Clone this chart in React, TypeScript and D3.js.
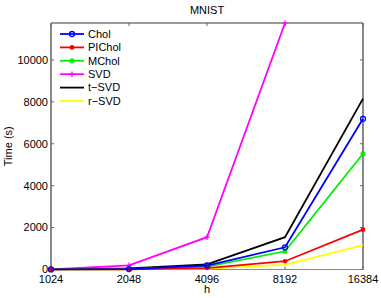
import React, { useEffect, useRef } from "react";
import * as d3 from "d3";

// chart values
const sizes = [1024, 2048, 4096, 8192, 16384];
const yTicks = [0, 2000, 4000, 6000, 8000, 10000];
const yMax = 11760;

const chol = [5, 20, 190, 1060, 7190];
const piChol = [3, 10, 70, 395, 1900];
const mChol = [4, 15, 140, 870, 5520];
const svd = [10, 200, 1540, 11760];
const tSvd = [6, 50, 240, 1540, 8150];
const rSvd = [2, 5, 40, 220, 1160];

const seriesNames = ["Chol", "PIChol", "MChol", "SVD", "t\u2212SVD", "r\u2212SVD"];
const seriesColors = ["#0000ff", "#ff0000", "#00ee00", "#ff00ff", "#000000", "#ffff00"];
const seriesMarkers = ["circle", "dot", "star", "plus", "none", "none"];
const seriesValues = [chol, piChol, mChol, svd, tSvd, rSvd];

const W = 381, H = 298;
const margin = { top: 23, right: 18, bottom: 28.5, left: 51 };

export default function App() {
    const ref = useRef<SVGSVGElement>(null);

    useEffect(() => {
        const svg = d3.select(ref.current);
        svg.selectAll("*").remove();
        const w = W - margin.left - margin.right;
        const h = H - margin.top - margin.bottom;

        const x = d3.scaleLog().base(2).domain([1024, 16384]).range([0, w]);
        const y = d3.scaleLinear().domain([0, yMax]).range([h, 0]);

        const g = svg.append("g").attr("transform", `translate(${margin.left},${margin.top})`);
        const font = "Liberation Sans, Arial, sans-serif";

        // frame
        g.append("line").attr("x1", 0).attr("x2", w).attr("y1", 0).attr("y2", 0)
            .attr("stroke", "#000").attr("stroke-width", 0.8);
        g.append("line").attr("x1", 0).attr("x2", w).attr("y1", h).attr("y2", h)
            .attr("stroke", "#888").attr("stroke-width", 1);
        g.append("line").attr("x1", 0).attr("x2", 0).attr("y1", 0).attr("y2", h)
            .attr("stroke", "#888").attr("stroke-width", 2);
        g.append("line").attr("x1", w).attr("x2", w).attr("y1", 0).attr("y2", h)
            .attr("stroke", "#888").attr("stroke-width", 2);

        // y ticks
        yTicks.forEach(t => {
            g.append("line").attr("x1", 0).attr("x2", 3).attr("y1", y(t)).attr("y2", y(t))
                .attr("stroke", "#666");
            g.append("line").attr("x1", w - 3).attr("x2", w).attr("y1", y(t)).attr("y2", y(t))
                .attr("stroke", "#666");
            g.append("text").attr("x", -3).attr("y", y(t)).attr("dy", "0.35em")
                .attr("text-anchor", "end").style("font-family", font).style("font-size", "11px")
                .text(t);
        });

        // x ticks
        sizes.forEach(s => {
            g.append("line").attr("x1", x(s)).attr("x2", x(s)).attr("y1", h).attr("y2", h - 3)
                .attr("stroke", "#666");
            g.append("line").attr("x1", x(s)).attr("x2", x(s)).attr("y1", 0).attr("y2", 3)
                .attr("stroke", "#666");
            g.append("text").attr("x", x(s)).attr("y", h + 13)
                .attr("text-anchor", "middle").style("font-family", font).style("font-size", "11px")
                .text(s);
        });

        const drawMarker = (sel: any, kind: string, cx: number, cy: number, color: string) => {
            if (kind === "circle") {
                sel.append("circle").attr("cx", cx).attr("cy", cy).attr("r", 2.5)
                    .attr("fill", "none").attr("stroke", color).attr("stroke-width", 1.3);
            } else if (kind === "dot") {
                sel.append("circle").attr("cx", cx).attr("cy", cy).attr("r", 2.3).attr("fill", color);
            } else if (kind === "star" || kind === "plus") {
                const r = 2.8;
                sel.append("path")
                    .attr("d", `M${cx - r},${cy}H${cx + r}M${cx},${cy - r}V${cy + r}` +
                        (kind === "star" ? `M${cx - 2},${cy - 2}L${cx + 2},${cy + 2}M${cx - 2},${cy + 2}L${cx + 2},${cy - 2}` : ""))
                    .attr("stroke", color).attr("stroke-width", 1.2);
            }
        };

        const line = d3.line<number>().x((d, i) => x(sizes[i])).y(d => y(d));

        // draw in reverse so Chol ends up on top
        const order = [3, 5, 4, 2, 1, 0];
        order.forEach(k => {
            const vals = seriesValues[k];
            g.append("path").datum(vals).attr("d", line)
                .attr("fill", "none").attr("stroke", seriesColors[k]).attr("stroke-width", 1.8);
            vals.forEach((v, i) => drawMarker(g, seriesMarkers[k], x(sizes[i]), y(v), seriesColors[k]));
        });

        // legend
        seriesNames.forEach((name, k) => {
            const ly = 34 + k * 13.4 - margin.top;
            g.append("line").attr("x1", 9).attr("x2", 33).attr("y1", ly).attr("y2", ly)
                .attr("stroke", seriesColors[k]).attr("stroke-width", 1.8);
            drawMarker(g, seriesMarkers[k], 21, ly, seriesColors[k]);
            g.append("text").attr("x", 37).attr("y", ly).attr("dy", "0.35em")
                .style("font-family", font).style("font-size", "11px").text(name);
        });

        // labels
        svg.append("text").attr("x", margin.left + w / 2).attr("y", 14)
            .attr("text-anchor", "middle").style("font-family", font).style("font-size", "11px")
            .text("MNIST");
        svg.append("text").attr("x", margin.left + w / 2).attr("y", 293)
            .attr("text-anchor", "middle").style("font-family", font).style("font-size", "11px")
            .text("h");
        svg.append("text").attr("transform", `translate(12,${margin.top + h / 2}) rotate(-90)`)
            .attr("text-anchor", "middle").style("font-family", font).style("font-size", "11px")
            .text("Time (s)");
    }, []);

    return (
        <svg ref={ref} width={W} height={H}
            style={{ position: "absolute", left: 0, top: 0, background: "#fff" }} />
    );
}
